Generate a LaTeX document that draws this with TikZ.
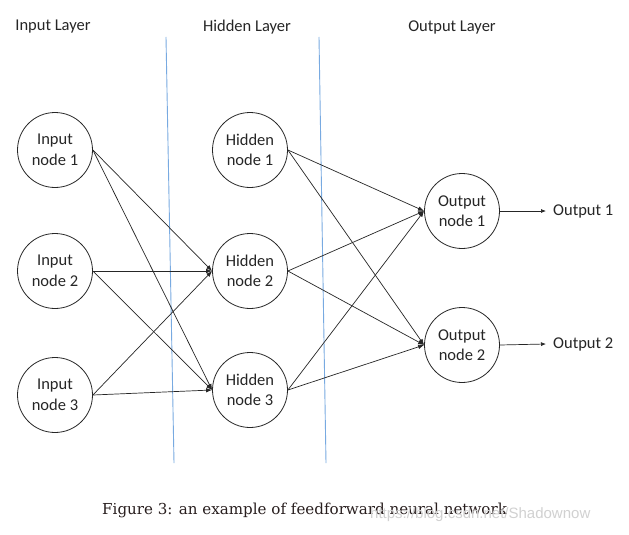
\documentclass[tikz,border=0pt]{standalone}
\usepackage{fontspec}
\setmainfont{Carlito}
\newfontfamily\capfont{DejaVu Serif}
\newfontfamily\wmfont{Liberation Sans}
\usetikzlibrary{arrows.meta}
\begin{document}
\begin{tikzpicture}[x=1pt,y=-1pt,
  neuron/.style={draw=black!85,line width=0.8pt,circle,minimum size=75pt,inner sep=0pt,align=center,font=\fontsize{16.5}{20.5}\selectfont,text=black!85},
  conn/.style={draw=black!85,line width=0.7pt,-{Latex[length=6pt,width=4.5pt]}},
  head/.style={font=\fontsize{16.5}{18}\selectfont,text=black!85},
  sep/.style={draw={rgb,255:red,120;green,170;blue,225},line width=0.9pt},
  outlab/.style={font=\fontsize{16.5}{18}\selectfont,text=black!85,anchor=west,inner sep=0pt}]
\useasboundingbox[fill=white] (0,0) rectangle (629,535);
% headings
\node[head] (h1) at (53,27) {Input Layer};
\node[head] (h2) at (247,27) {Hidden Layer};
\node[head] (h3) at (452,27) {Output Layer};
% separators
\coordinate (s1a) at (166,37); \coordinate (s1b) at (174,463);
\coordinate (s2a) at (319,37); \coordinate (s2b) at (326,463);
\draw[sep] (s1a) -- (s1b);
\draw[sep] (s2a) -- (s2b);
% nodes
\node[neuron] (i1) at (55,150) {Input\\node 1};
\node[neuron] (i2) at (55,271) {Input\\node 2};
\node[neuron] (i3) at (55,395) {Input\\node 3};
\node[neuron] (n1) at (250,150) {Hidden\\node 1};
\node[neuron] (n2) at (250,271) {Hidden\\node 2};
\node[neuron] (n3) at (250,390) {Hidden\\node 3};
\node[neuron] (o1) at (462,211) {Output\\node 1};
\node[neuron] (o2) at (462,345) {Output\\node 2};
\node[outlab] (l1) at (553,211) {Output 1};
\node[outlab] (l2) at (553,344) {Output 2};
% connections
\foreach \a in {i1,i2,i3}{
  \draw[conn] (\a.east) -- (n2.west);
  \draw[conn] (\a.east) -- (n3.west);
}
\foreach \a in {n1,n2,n3}{
  \draw[conn] (\a.east) -- (o1.west);
  \draw[conn] (\a.east) -- (o2.west);
}
\draw[conn,-{Latex[length=5pt,width=4pt]}] (o1.east) -- ([xshift=-7pt]l1.west);
\draw[conn,-{Latex[length=5pt,width=4pt]}] (o2.east) -- ([xshift=-7pt]l2.west);
% caption
\node[font=\capfont\fontsize{15.1}{18}\selectfont,text={rgb,255:red,40;green,30;blue,30},anchor=west,inner sep=0pt] (cap) at (102,510) {Figure 3: an example of feedforward neural network};
\node[font=\wmfont\fontsize{15}{17}\selectfont,text=black!18,anchor=west,inner sep=0pt] (wm) at (370,515) {https://blog.csdn.net/Shadownow};
\end{tikzpicture}
\end{document}
